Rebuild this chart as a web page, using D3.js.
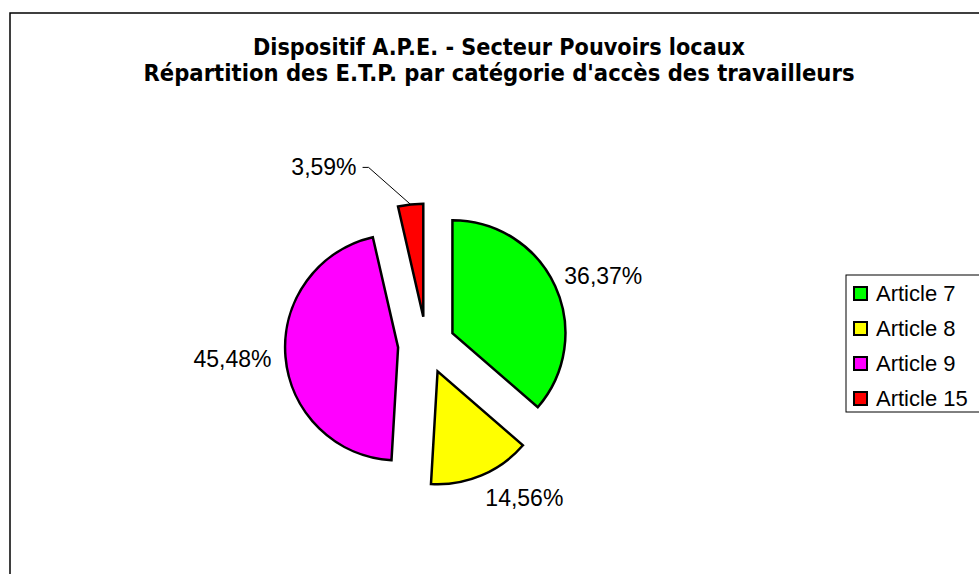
<!DOCTYPE html>
<html lang="fr">
<head>
<meta charset="utf-8">
<title>Dispositif A.P.E.</title>
<script src="https://cdn.jsdelivr.net/npm/d3@7"></script>
<style>
  body { margin: 0; background: #fff; }
  svg { display: block; }
</style>
</head>
<body>
<svg id="chart" width="979" height="574"></svg>
<script>
// data
var categories = ["Article 7", "Article 8", "Article 9", "Article 15"];
var shares = [36.37, 14.56, 45.48, 3.59];
var colors = ["#00ff00", "#ffff00", "#ff00ff", "#ff0000"];
var titleLines = ["Dispositif A.P.E. - Secteur Pouvoirs locaux",
                  "Répartition des E.T.P. par catégorie d'accès des travailleurs"];

var svg = d3.select("#chart");

// chart area frame (runs off the right and bottom of the window)
svg.append("rect")
  .attr("x", 10).attr("y", 13)
  .attr("width", 1100).attr("height", 700)
  .attr("fill", "#fff")
  .attr("stroke", "#000").attr("stroke-width", 1.5);

// title
svg.append("g")
  .attr("font-family", "'DejaVu Sans', Tahoma, sans-serif")
  .attr("font-weight", "bold")
  .attr("font-size", 22.5)
  .attr("text-anchor", "middle")
  .selectAll("text")
  .data(titleLines)
  .enter().append("text")
  .attr("x", 499)
  .attr("y", function (d, i) { return 54.5 + i * 26; })
  .attr("textLength", function (d, i) { return i == 0 ? 492 : 711; })
  .attr("lengthAdjust", "spacingAndGlyphs")
  .text(function (d) { return d; });

// pie
var cx = 426.5, cy = 345, radius = 113, explode = 28.5, labelGap = 10;
var fr = d3.formatLocale({ decimal: ",", thousands: " ", grouping: [3], currency: ["", "€"] });
var pct = fr.format(".2f");

var pie = d3.pie().sort(null).value(function (d) { return d; });
var arcs = pie(shares);
var arc = d3.arc().innerRadius(0).outerRadius(radius);

var g = svg.append("g").attr("transform", "translate(" + cx + "," + cy + ")");

function mid(d) { return (d.startAngle + d.endAngle) / 2; }

g.selectAll("path")
  .data(arcs)
  .enter().append("path")
  .attr("transform", function (d) {
    var a = mid(d);
    return "translate(" + (explode * Math.sin(a)) + "," + (-explode * Math.cos(a)) + ")";
  })
  .attr("d", arc)
  .attr("fill", function (d, i) { return colors[i]; })
  .attr("stroke", "#000")
  .attr("stroke-width", 2.5)
  .attr("stroke-linejoin", "miter");

// labels
var labels = g.append("g")
  .attr("font-family", "'Liberation Sans', Arial, sans-serif")
  .attr("font-size", 23)
  .attr("fill", "#000");

arcs.forEach(function (d, i) {
  var a = mid(d), s = Math.sin(a), c = -Math.cos(a);
  var ox = explode * s, oy = explode * c;
  if (i == 3) {
    // small slice: label moved out with a leader line
    var px = ox + radius * s, py = oy + radius * c;
    var ex = px - 42, ey = py - 37;
    g.append("path")
      .attr("d", "M" + px + "," + py + "L" + ex + "," + ey + "L" + (ex - 6) + "," + ey)
      .attr("fill", "none").attr("stroke", "#000").attr("stroke-width", 1);
    labels.append("text")
      .attr("x", ex - 12).attr("y", ey + 8)
      .attr("text-anchor", "end")
      .text(pct(d.data) + "%");
    return;
  }
  var lx = ox + (radius + labelGap) * s, ly = oy + (radius + labelGap) * c;
  labels.append("text")
    .attr("x", s > 0 ? lx : lx - 4)
    .attr("y", ly + 14.5 * c + 8.2)
    .attr("text-anchor", s > 0 ? "start" : "end")
    .text(pct(d.data) + "%");
});

// legend
var legend = svg.append("g").attr("transform", "translate(846,275)");
legend.append("rect")
  .attr("width", 200).attr("height", 137)
  .attr("fill", "#fff").attr("stroke", "#000").attr("stroke-width", 1);

var item = legend.selectAll("g.item")
  .data(categories)
  .enter().append("g")
  .attr("class", "item")
  .attr("transform", function (d, i) { return "translate(0," + i * 35 + ")"; });

item.append("rect")
  .attr("x", 8).attr("y", 12)
  .attr("width", 13).attr("height", 13)
  .attr("fill", function (d, i) { return colors[i]; })
  .attr("stroke", "#000").attr("stroke-width", 2);

item.append("text")
  .attr("x", 30).attr("y", 26)
  .attr("font-family", "'Liberation Sans', Arial, sans-serif")
  .attr("font-size", 22)
  .text(function (d) { return d; });
</script>
</body>
</html>
